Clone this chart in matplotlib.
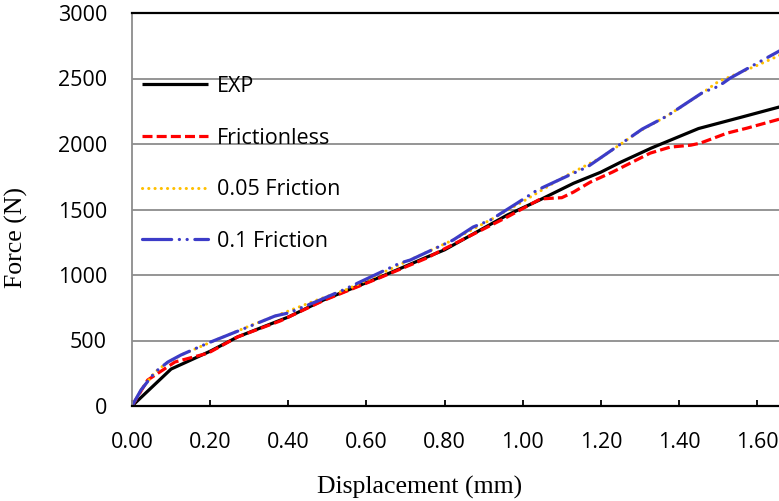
import matplotlib
matplotlib.use("Agg")
from matplotlib import pyplot
from matplotlib.ticker import FormatStrFormatter, MultipleLocator

# data
exp_x = [0, 0.10, 0.20, 0.27, 0.40, 0.49, 0.635, 0.755, 0.80, 0.96, 1.045, 1.13, 1.20, 1.25, 1.33, 1.45, 1.56, 1.66]
exp_y = [0, 282, 418, 527, 679, 809, 984, 1137, 1192, 1457, 1575, 1700, 1785, 1860, 1970, 2118, 2205, 2285]

fric0_x = [0, 0.04, 0.11, 0.195, 0.27, 0.38, 0.49, 0.635, 0.755, 0.79, 0.96, 1.045, 1.08, 1.10, 1.13, 1.173, 1.23, 1.326, 1.377, 1.43, 1.454, 1.523, 1.574, 1.66]
fric0_y = [0, 198, 336, 404, 527, 650, 805, 980, 1130, 1185, 1442, 1580, 1587, 1590, 1633, 1709, 1786, 1930, 1976, 1991, 2006, 2083, 2121, 2192]

fric05_x = [0, 0.025, 0.06, 0.09, 0.13, 0.20, 0.30, 0.37, 0.47, 0.55, 0.69, 0.82, 0.92, 1.00, 1.10, 1.20, 1.30, 1.37, 1.46, 1.50, 1.60, 1.66]
fric05_y = [0, 130, 262, 330, 395, 485, 610, 690, 805, 890, 1085, 1265, 1425, 1560, 1740, 1895, 2100, 2215, 2390, 2475, 2600, 2680]

fric1_x = [0, 0.023, 0.059, 0.092, 0.125, 0.195, 0.297, 0.366, 0.40, 0.474, 0.54, 0.686, 0.712, 0.822, 0.873, 0.917, 0.986, 1.037, 1.114, 1.165, 1.206, 1.306, 1.369, 1.462, 1.493, 1.513, 1.531, 1.60, 1.66]
fric1_y = [0, 122, 259, 336, 389, 481, 603, 687, 710, 800, 885, 1091, 1114, 1267, 1366, 1419, 1549, 1648, 1755, 1824, 1908, 2114, 2213, 2396, 2430, 2465, 2503, 2617, 2715]

TICKFONT = "Open Sans"
SERIF = "Liberation Serif"
matplotlib.rcParams['lines.scale_dashes'] = False

dpi = 100.0
fig = pyplot.figure(figsize=(779/dpi, 501/dpi), dpi=dpi)
ax = fig.add_axes([132/779.0, 1-406/501.0, 1-132/779.0, (406-13)/501.0])

ax.plot(exp_x, exp_y, color='black', lw=2.3, label='EXP', solid_capstyle='butt')
ax.plot(fric0_x, fric0_y, color='#ff0000', lw=2.3, dashes=(7.2, 3.0), label='Frictionless')
ax.plot(fric05_x, fric05_y, color='#ffc000', lw=2.2, dashes=(0.1, 4.4), dash_capstyle='round', label='0.05 Friction')
ax.plot(fric1_x, fric1_y, color='#3c3cc8', lw=2.3, dashes=(21, 5.5, 0.1, 5.5, 0.1, 5.5), dash_capstyle='round', label='0.1 Friction')

ax.set_xlim(0, 1.656)
ax.set_ylim(0, 3000)
ax.xaxis.set_major_locator(MultipleLocator(0.2))
ax.xaxis.set_major_formatter(FormatStrFormatter('%.2f'))
ax.yaxis.set_major_locator(MultipleLocator(500))
ax.grid(axis='y', color='#8c8c8c', lw=1.3)
ax.set_axisbelow(True)

ax.spines['right'].set_visible(False)
ax.spines['top'].set_color('black')
ax.spines['top'].set_linewidth(1.6)
ax.spines['bottom'].set_color('black')
ax.spines['bottom'].set_linewidth(1.6)
ax.spines['left'].set_color('#8c8c8c')
ax.spines['left'].set_linewidth(1.3)

ax.tick_params(axis='x', direction='in', length=4, width=1.3, color='black', pad=19, labelsize=15.5)
ax.tick_params(axis='y', length=0, pad=18, labelsize=15.5)
for lab in ax.get_xticklabels() + ax.get_yticklabels():
	lab.set_fontfamily(TICKFONT)

xl = ax.set_xlabel('Displacement (mm)', fontfamily=SERIF, fontsize=18.5)
xl.set_va('center')
ax.xaxis.set_label_coords(0.445, -0.206)
yl = ax.set_ylabel('Force (N)', fontfamily=SERIF, fontsize=18.5)
yl.set_va('center')
ax.yaxis.set_label_coords(-0.178, 0.43)

leg = ax.legend(loc='upper left', bbox_to_anchor=(142/779.0, 1-76/501.0), bbox_transform=fig.transFigure,
	frameon=False, borderpad=0, borderaxespad=0, handlelength=3.05, handletextpad=0.45,
	labelspacing=1.42, prop={'family': TICKFONT, 'size': 15.5})

fig.savefig('out.png', dpi=dpi)
